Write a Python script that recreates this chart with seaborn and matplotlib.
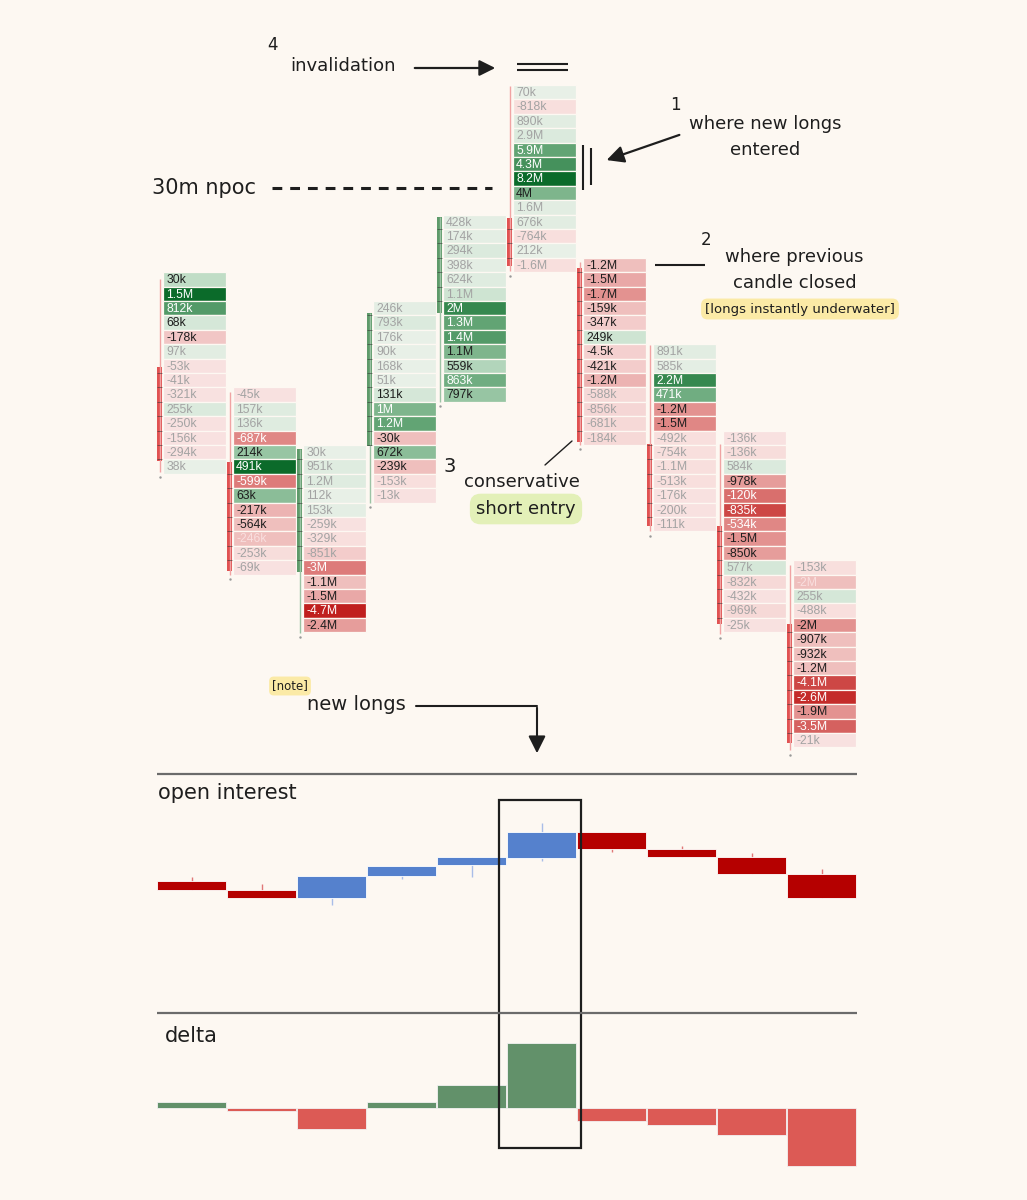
import matplotlib
matplotlib.use("Agg")
import matplotlib.pyplot as plt
from matplotlib.colors import LinearSegmentedColormap
from matplotlib.patches import Rectangle
import seaborn as sns

# ---- footprint data: first price row (rows counted from the top) ----
col_start = [13, 21, 25, 15, 9, 0, 12, 18, 24, 33]

c1_vals = ["30k", "1.5M", "812k", "68k", "-178k", "97k", "-53k", "-41k", "-321k", "255k", "-250k", "-156k", "-294k", "38k"]
c1_shade = [.35, 1, .75, .2, .3, .1, .08, .08, .08, .15, .08, .08, .08, .05]
c1_ink = "dwwddggggggggg"

c2_vals = ["-45k", "157k", "136k", "-687k", "214k", "491k", "-599k", "63k", "-217k", "-564k", "-246k", "-253k", "-69k"]
c2_shade = [.08, .12, .12, .6, .5, 1, .65, .55, .4, .35, .35, .12, .08]
c2_ink = "gggwdwwdddfgg"

c3_vals = ["30k", "951k", "1.2M", "112k", "153k", "-259k", "-329k", "-851k", "-3M", "-1.1M", "-1.5M", "-4.7M", "-2.4M"]
c3_shade = [.05, .12, .12, .05, .08, .08, .1, .25, .65, .35, .45, 1, .5]
c3_ink = "ggggggggwddwd"

c4_vals = ["246k", "793k", "176k", "90k", "168k", "51k", "131k", "1M", "1.2M", "-30k", "672k", "-239k", "-153k", "-13k"]
c4_shade = [.08, .15, .05, .05, .05, .05, .2, .6, .7, .35, .55, .35, .1, .08]
c4_ink = "ggggggdwwdddgg"

c5_vals = ["428k", "174k", "294k", "398k", "624k", "1.1M", "2M", "1.3M", "1.4M", "1.1M", "559k", "863k", "797k"]
c5_shade = [.08, .08, .15, .08, .12, .25, .85, .7, .75, .6, .4, .65, .5]
c5_ink = "ggggggwwwddwd"

c6_vals = ["70k", "-818k", "890k", "2.9M", "5.9M", "4.3M", "8.2M", "4M", "1.6M", "676k", "-764k", "212k", "-1.6M"]
c6_shade = [.05, .1, .1, .15, .7, .8, 1, .6, .1, .1, .1, .05, .1]
c6_ink = "ggggwwwdggggg"

c7_vals = ["-1.2M", "-1.5M", "-1.7M", "-159k", "-347k", "249k", "-4.5k", "-421k", "-1.2M", "-588k", "-856k", "-681k", "-184k"]
c7_shade = [.35, .45, .55, .35, .25, .25, .22, .25, .4, .15, .17, .15, .15]
c7_ink = "dddddddddgggg"

c8_vals = ["891k", "585k", "2.2M", "471k", "-1.2M", "-1.5M", "-492k", "-754k", "-1.1M", "-513k", "-176k", "-200k", "-111k"]
c8_shade = [.1, .08, .85, .65, .55, .6, .1, .1, .1, .1, .08, .08, .08]
c8_ink = "ggwwddggggggg"

c9_vals = ["-136k", "-136k", "584k", "-978k", "-120k", "-835k", "-534k", "-1.5M", "-850k", "577k", "-832k", "-432k", "-969k", "-25k"]
c9_shade = [.08, .12, .15, .5, .7, .85, .6, .55, .5, .2, .15, .08, .15, .08]
c9_ink = "gggdwwwddggggg"

c10_vals = ["-153k", "-2M", "255k", "-488k", "-2M", "-907k", "-932k", "-1.2M", "-4.1M", "-2.6M", "-1.9M", "-3.5M", "-21k"]
c10_shade = [.1, .35, .2, .1, .55, .35, .35, .35, .85, .95, .55, .75, .08]
c10_ink = "gfggddddwwdwg"

# price candles, in rows from the top
cdl_high = [13.5, 21.3, 25.3, 15.8, 9.2, 0.1, 12.3, 18.05, 24.9, 33.3]
cdl_open = [19.6, 26.2, 33.8, 25.1, 15.8, 9.25, 12.7, 24.9, 30.6, 37.4]
cdl_close = [26.1, 33.75, 25.3, 15.8, 9.2, 12.6, 24.8, 30.6, 37.4, 45.7]
cdl_low = [26.9, 34.0, 38.05, 29.0, 22.0, 12.95, 25.0, 31.0, 38.1, 46.2]

# open interest candles (relative units)
oi_open = [18.7, 10.0, 2.3, 24.3, 34.7, 42.3, 68.3, 50.7, 42.7, 25.7]
oi_close = [9.7, 2.3, 24.3, 34.3, 42.7, 67.7, 50.7, 42.7, 26.0, 2.3]
oi_high = [23.3, 16.0, 24.3, 34.3, 42.7, 77.3, 68.3, 54.3, 47.0, 31.0]
oi_low = [9.7, 2.3, -5.0, 21.0, 23.3, 39.3, 48.3, 42.7, 26.0, 2.3]

# candle delta (M)
delta = [2.4, -0.9, -8.0, 2.4, 9.1, 25.0, -5.0, -6.3, -10.1, -22.2]
candles = [str(i + 1) for i in range(10)]

BG = "#fdf8f2"
INK = "#1e1e1e"
HAND = "DejaVu Sans"

columns = [
    (c1_vals, c1_shade, c1_ink), (c2_vals, c2_shade, c2_ink),
    (c3_vals, c3_shade, c3_ink), (c4_vals, c4_shade, c4_ink),
    (c5_vals, c5_shade, c5_ink), (c6_vals, c6_shade, c6_ink),
    (c7_vals, c7_shade, c7_ink), (c8_vals, c8_shade, c8_ink),
    (c9_vals, c9_shade, c9_ink), (c10_vals, c10_shade, c10_ink),
]

greens = LinearSegmentedColormap.from_list("g", ["#eef3ec", "#c4dfca", "#6cab7d", "#0b6b2a"])
reds = LinearSegmentedColormap.from_list("r", ["#fbebe9", "#f0c2c1", "#dc7876", "#c01f1e"])
ink_colors = {"g": "#a3a3a3", "d": "#1e1e1e", "w": "#ffffff", "f": "#f9dede"}

sns.set_theme(style="white", rc={"figure.facecolor": BG, "axes.facecolor": BG})
plt.rcParams["font.family"] = ["DejaVu Sans"]

fig = plt.figure(figsize=(10.27, 12), dpi=100)
fig.patch.set_facecolor(BG)

# ---- footprint ----
ax = fig.add_axes([128 / 1027, 1 - 780 / 1200, 770 / 1027, 740 / 1200])
ax.set_xlim(-0.5, 10.5)
ax.set_ylim(48.264, -3.125)
ax.axis("off")

for i, (vals, shades, inks) in enumerate(columns):
    for j, (lab, s, k) in enumerate(zip(vals, shades, inks)):
        lvl = col_start[i] + j
        cmap = reds if lab.startswith("-") else greens
        ax.bar(i, 1, bottom=lvl, width=0.9, align="edge", color=cmap(float(s)),
               edgecolor=BG, linewidth=0.9)
        ax.text(i + 0.045, lvl + 0.55, lab, fontsize=8.8, family="Liberation Sans",
                color=ink_colors[k], va="center", ha="left")

    # candle
    xc = i - 0.05
    up = cdl_close[i] < cdl_open[i]
    body_c = "#5e9a6a" if up else "#e05252"
    wick_c = "#9cc3a5" if up else "#f0a3a3"
    ax.vlines(xc, cdl_high[i], cdl_low[i], color=wick_c, lw=1.0)
    top, bot = min(cdl_open[i], cdl_close[i]), max(cdl_open[i], cdl_close[i])
    ax.bar(xc, bot - top, bottom=top, width=0.075, color=body_c, linewidth=0)
    ticks = [t for t in range(int(top) + 1, int(bot) + 1)]
    ax.hlines(ticks, xc - 0.04, xc + 0.04, color="#333333", lw=0.7, alpha=0.55)
    ax.plot(xc, cdl_low[i] + 0.3, marker=".", ms=1.5, color="#999999")

# ---- open interest ----
ax_oi = fig.add_axes([156.5 / 1027, 1 - 1013 / 1200, 700 / 1027, 239 / 1200])
ax_oi.set_xlim(-0.5, 9.5)
ax_oi.set_ylim(-113, 126)
ax_oi.axis("off")
for i in range(10):
    up = oi_close[i] > oi_open[i]
    body_c = "#5581cd" if up else "#b50000"
    wick_c = "#a9bde8" if up else "#e07878"
    ax_oi.vlines(i, oi_low[i], oi_high[i], color=wick_c, lw=1.0, zorder=1)
    lo, hi = min(oi_open[i], oi_close[i]), max(oi_open[i], oi_close[i])
    ax_oi.bar(i, hi - lo, bottom=lo, width=0.986, color=body_c,
              edgecolor="#ffffff", linewidth=0.6, zorder=2)

# ---- delta ----
ax_d = fig.add_axes([156.5 / 1027, 1 - 1180 / 1200, 700 / 1027, 166 / 1200])
sign = ["pos" if d > 0 else "neg" for d in delta]
sns.barplot(x=candles, y=delta, hue=sign, palette={"pos": "#62916a", "neg": "#dc5a55"},
            dodge=False, width=0.986, edgecolor="#f2f2f2", linewidth=0.6,
            saturation=1, legend=False, ax=ax_d)
ax_d.set_xlim(-0.5, 9.5)
ax_d.set_ylim(-27.6, 36.27)
ax_d.axis("off")

# ---- annotations overlay (pixel coordinates) ----
ov = fig.add_axes([0, 0, 1, 1], zorder=10)
ov.set_xlim(0, 1027)
ov.set_ylim(1200, 0)
ov.axis("off")
ov.patch.set_alpha(0)

def note(x, y, s, size=13, **kw):
    ov.text(x, y, s, fontsize=size, family=HAND, color=INK, ha="center", va="center", **kw)

note(273, 45, "4", 12)
note(343, 66, "invalidation")
ov.annotate("", xy=(498, 68), xytext=(412, 68),
            arrowprops=dict(arrowstyle="-|>", lw=1.6, color=INK, mutation_scale=24))
ov.hlines([64, 70], 517, 568, color=INK, lw=1.5)

note(675, 105, "1", 12)
note(765, 124, "where new longs")
note(765, 150, "entered")
ov.annotate("", xy=(604, 161), xytext=(682, 134),
            arrowprops=dict(arrowstyle="-|>", lw=1.6, color=INK, mutation_scale=26))
ov.vlines(583, 145, 190, color=INK, lw=1.5)
ov.vlines(591, 148, 185, color=INK, lw=1.5)

note(204, 188, "30m npoc", 15)
ov.plot([272, 492], [188, 188], color=INK, lw=2.2, dashes=(3.2, 2.6))

note(706, 240, "2", 12)
note(794, 257, "where previous")
note(795, 283, "candle closed")
ov.hlines(265, 655, 705, color=INK, lw=1.5)
ov.text(800, 309, "[longs instantly underwater]", fontsize=9.5, family=HAND, color=INK,
        ha="center", va="center",
        bbox=dict(boxstyle="round,pad=0.3,rounding_size=0.5", fc="#fbeaa6", ec="none"))

note(450, 466, "3", 14)
note(522, 482, "conservative")
ov.text(526, 509, "short entry", fontsize=13, family=HAND, color=INK, ha="center", va="center",
        bbox=dict(boxstyle="round,pad=0.35,rounding_size=0.6", fc="#e3f0b8", ec="none"))
ov.plot([545, 572], [465, 441], color=INK, lw=1.0)

ov.text(290, 686, "[note]", fontsize=8.5, family=HAND, color=INK, ha="center", va="center",
        bbox=dict(boxstyle="round,pad=0.25,rounding_size=0.4", fc="#fbeaa6", ec="none"))
note(356, 705, "new longs", 14)
ov.plot([416, 537], [706, 706], color=INK, lw=1.5)
ov.annotate("", xy=(537, 756), xytext=(537, 705),
            arrowprops=dict(arrowstyle="-|>", lw=1.5, color=INK, mutation_scale=26))

ov.hlines([774, 1013], 157, 857, color="#6b6b6b", lw=1.6)
ov.text(158, 793, "open interest", fontsize=15, family=HAND, color=INK, ha="left", va="center")
ov.text(165, 1036, "delta", fontsize=15, family=HAND, color=INK, ha="left", va="center")
ov.add_patch(Rectangle((499, 800), 82, 348, fill=False, ec=INK, lw=1.6))

fig.savefig("out.png", dpi=100, facecolor=BG)
